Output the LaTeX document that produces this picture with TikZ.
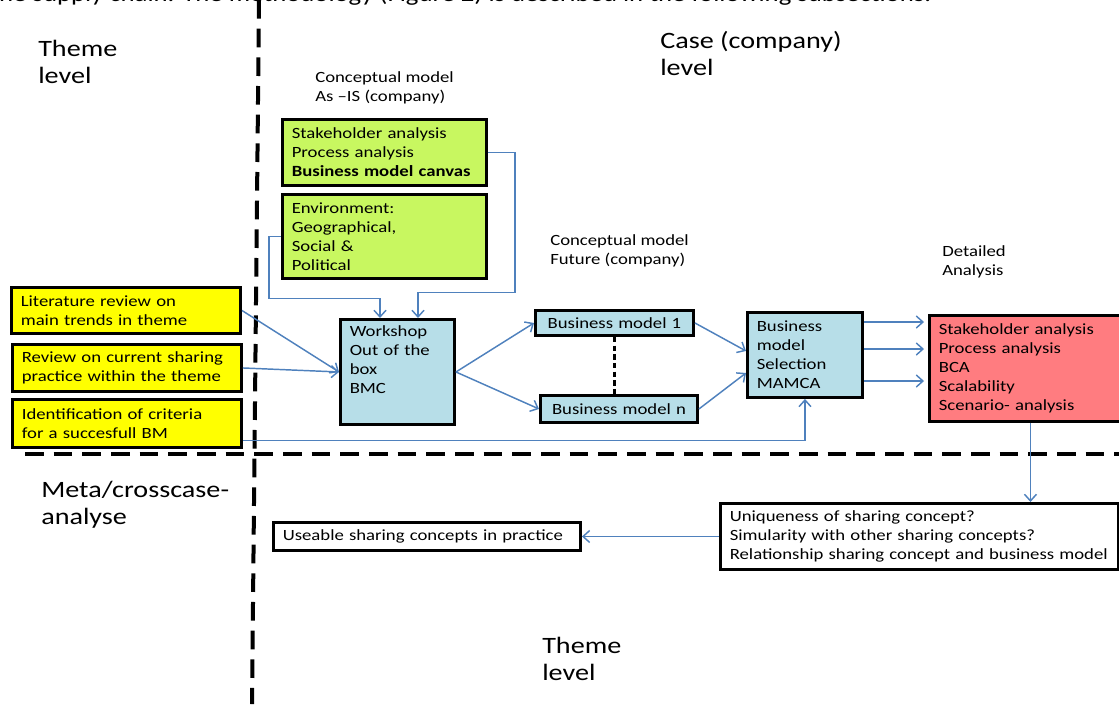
\documentclass[tikz,border=0pt]{standalone}
\usepackage{fontspec}
\setmainfont{Carlito}[FakeStretch=1.2]
\usetikzlibrary{positioning,calc,arrows.meta}
\definecolor{boxgreen}{HTML}{C8F760}
\definecolor{boxyellow}{HTML}{FFFF00}
\definecolor{boxblue}{HTML}{B7DEE8}
\definecolor{boxred}{HTML}{FF7C80}
\definecolor{flowblue}{HTML}{4F81BD}
\newcommand{\txt}{\fontsize{11.7}{14.25}\selectfont}
\newcommand{\lvl}{\fontsize{17.6}{20.25}\selectfont}
\tikzset{
	box/.style={draw, line width=2.2pt, anchor=north west, align=left, inner xsep=7pt, inner ysep=0pt, font=\txt},
	flow/.style={draw=flowblue, line width=1.1pt, -{Straight Barb[length=5pt,width=9pt]}},
	level/.style={anchor=base west, align=left, inner sep=0pt, font=\lvl},
	note/.style={anchor=base west, align=left, inner sep=0pt, font=\txt},
	sep/.style={line width=3pt, dash pattern=on 14pt off 7.5pt},
}

\begin{document}
\begin{tikzpicture}[x=0.75pt, y=-0.75pt]
	\useasboundingbox (0,0) rectangle (1119,704);

	% cut off line of the page above
	\node[anchor=base west, inner sep=0pt, font=\fontsize{16.7}{20}\selectfont] (cut) at (-10,1) {the supply chain. The methodology (Figure 2) is described in the following subsections.};

	\draw[sep] (259,0) -- (252,704);
	\draw[sep] (25,454) -- (1119,454);

	% base = last line
	\node[level] (thm1) at (38,83) {Theme\\level};
	\node[level] (case) at (660,75) {Case (company)\\level};
	\node[level] (meta) at (41,524) {Meta/crosscase-\\analyse};
	\node[level] (thm2) at (542,680) {Theme\\level};

	\node[note] (asis) at (315,101) {Conceptual model\\As --IS (company)};
	\node[note] (fut) at (550,264) {Conceptual model\\Future (company)};
	\node[note] (detl) at (942,275) {Detailed\\Analysis};

	\node[box, fill=boxgreen, minimum height=49.5pt, text width=139pt] (as1) at (281,118) {Stakeholder analysis\\Process analysis\\\textbf{Business model canvas}};
	\node[box, fill=boxgreen, minimum height=63pt, text width=139pt] (as2) at (281,193) {Environment:\\Geographical,\\Social \&\\Political};

	\node[box, fill=boxyellow, minimum height=34.5pt, text width=157.75pt] (lit) at (10,286) {Literature review on\\main trends in theme};
	\node[box, fill=boxyellow, minimum height=35.25pt, text width=157.75pt] (rev) at (11,343) {Review on current sharing\\practice within the theme};
	\node[box, fill=boxyellow, minimum height=36pt, text width=157.75pt] (crit) at (11,398) {Identification of criteria\\for a succesfull BM};

	\node[box, fill=boxblue, minimum height=78.75pt, text width=71.5pt] (ws) at (339,318) {Workshop\\Out of the\\box\\BMC\\\strut};
	\node[box, fill=boxblue, minimum height=18.75pt, text width=104.5pt, align=center] (bm1) at (534,309) {Business model 1};
	\node[box, fill=boxblue, minimum height=20.25pt, text width=103.75pt, align=center] (bmn) at (539,394) {Business model n};
	\node[box, fill=boxblue, minimum height=63.75pt, text width=72.25pt] (sel) at (746,311) {Business\\model\\Selection\\MAMCA};
	\node[box, fill=boxred, minimum height=79.5pt, text width=137.5pt] (det) at (928,314) {Stakeholder analysis\\Process analysis\\BCA\\Scalability\\Scenario- analysis};

	\node[box, fill=white, minimum height=49.5pt, text width=284.5pt] (uniq) at (719,502) {Uniqueness of sharing concept?\\Simularity with other sharing concepts?\\Relationship sharing concept and business model};
	\node[box, fill=white, minimum height=21pt, text width=216.25pt] (use) at (272,521) {Useable sharing concepts in practice};

	\coordinate (in1) at ($(ws.north west)+(79,0)$);
	\coordinate (in2) at ($(ws.north west)+(41,0)$);

	\draw[flow] (as1.east) -- ++(27,0) -- ++(0,140) -| (in1);
	\draw[flow] (as2.west) -- ++(-12,0) -- ++(0,62) -| (in2);
	\draw[flow] (lit.east) -- (ws.west);
	\draw[flow] (rev.east) -- (ws.west);
	\draw[flow] ($(crit.east)+(0,17)$) -| (sel.south);

	\draw[flow] (ws.east) -- (bm1.west);
	\draw[flow] (ws.east) -- (bmn.west);
	\draw[line width=1.6pt, dash pattern=on 4pt off 2.5pt] (bm1.south) -- (bm1.south |- bmn.north);
	\draw[flow] (bm1.east) -- ($(sel.west)+(0,-4)$);
	\draw[flow] (bmn.east) -- ($(sel.west)+(0,18)$);

	\foreach \dy in {11,38,70}
		\draw[flow] ($(sel.north east)+(0,\dy)$) coordinate (s) -- ($(s -| det.west)+(-4,0)$);

	\draw[flow] (det.south) -- (det.south |- uniq.north);
	\draw[flow] (uniq.west) -- (use.east);
\end{tikzpicture}
\end{document}
